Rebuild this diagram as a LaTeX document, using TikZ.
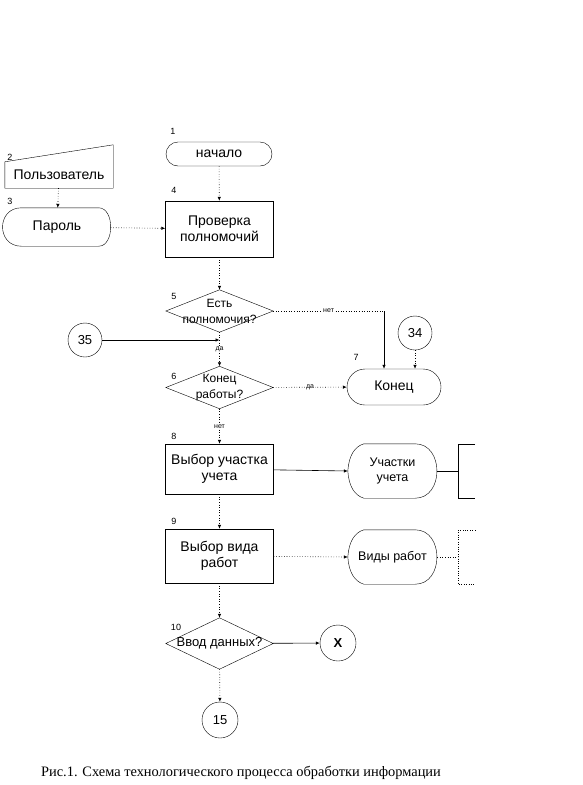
\documentclass[tikz,border=0pt]{standalone}
\usepackage{fontspec}
\setmainfont{Liberation Sans}
\newfontfamily\capfont{Liberation Serif}
\usetikzlibrary{arrows.meta}

\begin{document}
\begin{tikzpicture}[x=1pt, y=-1pt,
  box/.style={draw, align=center, inner sep=0pt, minimum width=108pt,
              font=\fontsize{14}{16}\selectfont},
  term/.style={draw, align=center, inner sep=0pt,
               font=\fontsize{14}{16}\selectfont},
  plain/.style={align=center, inner sep=0pt},
  dia/.style={align=center, inner sep=0pt, minimum width=107pt,
              font=\fontsize{12}{16}\selectfont},
  conn/.style={draw, circle, inner sep=0pt, minimum size=34pt,
               font=\fontsize{13}{15}\selectfont},
  num/.style={inner sep=0pt, font=\fontsize{9}{9}\selectfont},
  lbl/.style={fill=white, inner sep=0.8pt, font=\fontsize{7}{7}\selectfont},
  flow/.style={dotted, line width=0.6pt, -{Latex[length=4pt,width=3.5pt]}},
  arrow/.style={line width=0.6pt, -{Latex[length=4pt,width=3.5pt]}}
]
  \useasboundingbox (0,0) rectangle (582,785);

  % blocks
  \node[term, rounded corners=12pt, minimum width=106pt, minimum height=24pt] (start) at (219,154) {начало};
  \node[plain, minimum width=108pt, minimum height=26pt, font=\fontsize{14}{16}\selectfont] (user) at (59,175) {Пользователь};
  \node[plain, minimum width=107pt, minimum height=38pt, font=\fontsize{14}{16}\selectfont] (pw) at (57,227) {Пароль};
  \node[box, minimum height=56pt] (check) at (219.5,229) {Проверка\\полномочий};
  \node[dia, minimum height=42pt] (auth) at (219.5,311) {Есть\\полномочия?};
  \node[conn] (c34) at (415,333) {34};
  \node[conn] (c35) at (85,340) {35};
  \node[term, rounded corners=18pt, minimum width=94pt, minimum height=36pt] (fin) at (394,387) {Конец};
  \node[dia, minimum height=42pt] (quit) at (219.5,387.5) {Конец\\работы?};
  \node[box, minimum height=50pt] (area) at (219.5,469) {Выбор участка\\учета};
  \node[plain, minimum width=89pt, minimum height=54pt, font=\fontsize{12.5}{15}\selectfont] (areas) at (392.5,471) {Участки\\учета};
  \node[box, minimum height=54pt] (kind) at (219.5,556) {Выбор вида\\работ};
  \node[plain, minimum width=89pt, minimum height=54pt, font=\fontsize{12.5}{15}\selectfont] (kinds) at (392.5,557) {Виды работ};
  \node[dia, minimum height=51pt, font=\fontsize{13}{15}\selectfont] (input) at (219.5,643.5) {Ввод данных?};
  \node[conn, minimum size=36pt, font=\fontsize{13}{15}\bfseries] (cx) at (338,643) {X};
  \node[conn, minimum size=36pt] (c15) at (220,720) {15};

  % outlines
  \draw (user.south west) -- (user.south east) -- ([yshift=17pt]user.north east) -- (user.north west) -- cycle;
  \draw ([xshift=18pt]pw.north west) -- ([xshift=-12pt]pw.north east)
    .. controls ([xshift=4pt]pw.north east) and ([xshift=4pt]pw.south east) .. ([xshift=-12pt]pw.south east)
    -- ([xshift=18pt]pw.south west)
    .. controls ([xshift=-7pt]pw.south west) and ([xshift=-7pt]pw.north west) .. ([xshift=18pt]pw.north west) -- cycle;
  \foreach \d in {auth,quit,input}
    \draw (\d.north) -- (\d.east) -- (\d.south) -- (\d.west) -- cycle;
  \foreach \s in {areas,kinds}
    \draw ([xshift=16pt]\s.north west) -- ([xshift=-22pt]\s.north east)
      .. controls ([xshift=7pt]\s.north east) and ([xshift=7pt]\s.south east) .. ([xshift=-22pt]\s.south east)
      -- ([xshift=16pt]\s.south west)
      .. controls ([xshift=6pt,yshift=3pt]\s.south west) and ([xshift=1pt,yshift=13pt]\s.south west) .. (\s.west)
      .. controls ([xshift=1pt,yshift=-13pt]\s.north west) and ([xshift=6pt,yshift=-3pt]\s.north west) .. ([xshift=16pt]\s.north west) -- cycle;

  % comment brackets
  \coordinate (b1) at (458,471);
  \coordinate (b2) at (458,557);
  \draw (475,444) -- (458,444) -- (458,498) -- (475,498);
  \draw[dotted] (475,530) -- (458,530) -- (458,584) -- (475,584);

  % numbers
  \node[num] (n1) at (173,131) {1};
  \node[num] (n2) at (10,157) {2};
  \node[num] (n3) at (10,201) {3};
  \node[num] (n4) at (174,190) {4};
  \node[num] (n5) at (174,296) {5};
  \node[num] (n6) at (174,376) {6};
  \node[num] (n7) at (356,357) {7};
  \node[num] (n8) at (174,436) {8};
  \node[num] (n9) at (174,521) {9};
  \node[num] (n10) at (176,627) {10};

  % connections
  \coordinate (k1) at (384,311);
  \draw[flow] (start) -- (check);
  \draw[flow] (user) -- (pw);
  \draw[flow] (pw) -- (check);
  \draw[flow] (check) -- (auth);
  \draw[dotted, line width=0.6pt] (auth.east) -- node[lbl] {нет} (k1);
  \draw[arrow] (k1) -- (k1 |- fin.north);
  \draw[flow] (c34) -- (c34 |- fin.north);
  \draw[arrow] (c35) -- (c35 -| auth.south);
  \draw[flow] (auth) -- node[lbl] {да} (quit);
  \draw[flow] (quit) -- node[lbl] {да} (fin);
  \draw[flow] (quit) -- node[lbl] {нет} (area);
  \draw[arrow] (area) -- (areas.west);
  \draw[flow] (area) -- (kind);
  \draw[flow] (kind) -- (kinds.west);
  \draw[line width=0.6pt] (areas.east) -- (b1);
  \draw[dotted, line width=0.6pt] (kinds.east) -- (b2);
  \draw[flow] (kind) -- (input);
  \draw[arrow] (input) -- (cx);
  \draw[flow] (input) -- (c15);

  % caption
  \node[plain, font=\capfont\fontsize{14.4}{16}\selectfont] (cap) at (241,773) {Рис.1. Схема технологического процесса обработки информации};
\end{tikzpicture}
\end{document}
